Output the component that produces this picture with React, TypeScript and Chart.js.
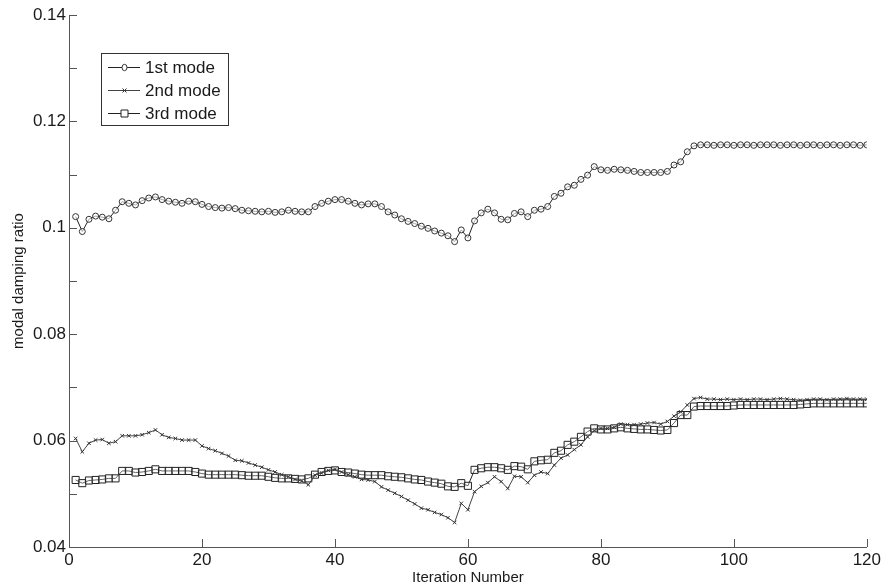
import React, { useEffect, useRef } from "react";
import { Chart, registerables } from "chart.js";

Chart.register(...registerables);

const iterations: number[] = Array.from({ length: 120 }, (_, i) => i + 1);

const mode1: number[] = [
  0.1021, 0.0993, 0.1016, 0.1022, 0.1020, 0.1017, 0.1033, 0.1049, 0.1046, 0.1043,
  0.1051, 0.1056, 0.1058, 0.1053, 0.1050, 0.1048, 0.1046, 0.1050, 0.1049, 0.1044,
  0.1040, 0.1038, 0.1037, 0.1038, 0.1036, 0.1033, 0.1032, 0.1031, 0.1030, 0.1031,
  0.1029, 0.1030, 0.1033, 0.1031, 0.1030, 0.1030, 0.1040, 0.1046, 0.1050, 0.1053,
  0.1053, 0.1050, 0.1046, 0.1043, 0.1045, 0.1045, 0.1040, 0.1030, 0.1024, 0.1017,
  0.1012, 0.1008, 0.1003, 0.0999, 0.0994, 0.0990, 0.0985, 0.0974, 0.0996, 0.0981,
  0.1013, 0.1028, 0.1035, 0.1028, 0.1016, 0.1015, 0.1027, 0.1030, 0.1021, 0.1033,
  0.1035, 0.1040, 0.1059, 0.1065, 0.1077, 0.1080, 0.1091, 0.1099, 0.1115, 0.1109,
  0.1108, 0.1110, 0.1109, 0.1108, 0.1106, 0.1104, 0.1104, 0.1104, 0.1104, 0.1106,
  0.1118, 0.1124, 0.1143, 0.1154, 0.1156, 0.1156, 0.1155, 0.1156, 0.1156, 0.1155,
  0.1156, 0.1156, 0.1155, 0.1156, 0.1156, 0.1156, 0.1155, 0.1156, 0.1156, 0.1155,
  0.1156, 0.1156, 0.1155, 0.1156, 0.1156, 0.1155, 0.1156, 0.1156, 0.1155, 0.1156,
];

const mode2: number[] = [
  0.0604, 0.0579, 0.0595, 0.0601, 0.0602, 0.0595, 0.0598, 0.0609, 0.0609, 0.0609,
  0.0611, 0.0615, 0.0620, 0.0611, 0.0606, 0.0604, 0.0601, 0.0601, 0.0601, 0.0590,
  0.0585, 0.0581, 0.0576, 0.0571, 0.0563, 0.0562, 0.0558, 0.0554, 0.0550, 0.0545,
  0.0541, 0.0536, 0.0532, 0.0527, 0.0524, 0.0517, 0.0535, 0.0539, 0.0544, 0.0546,
  0.0541, 0.0536, 0.0532, 0.0527, 0.0526, 0.0523, 0.0513, 0.0507, 0.0501, 0.0495,
  0.0488, 0.0481, 0.0473, 0.0470, 0.0465, 0.0461, 0.0455, 0.0446, 0.0482, 0.0470,
  0.0504, 0.0514, 0.0521, 0.0532, 0.0523, 0.0510, 0.0533, 0.0532, 0.0521, 0.0535,
  0.0541, 0.0538, 0.0554, 0.0567, 0.0573, 0.0583, 0.0592, 0.0607, 0.0619, 0.0623,
  0.0623, 0.0625, 0.0631, 0.0630, 0.0630, 0.0631, 0.0633, 0.0634, 0.0631, 0.0636,
  0.0646, 0.0654, 0.0667, 0.0679, 0.0681, 0.0678, 0.0678, 0.0677, 0.0678, 0.0677,
  0.0678, 0.0677, 0.0678, 0.0678, 0.0677, 0.0678, 0.0679, 0.0678, 0.0677, 0.0676,
  0.0677, 0.0678, 0.0678, 0.0677, 0.0678, 0.0678, 0.0679, 0.0678, 0.0678, 0.0678,
];

const mode3: number[] = [
  0.0526, 0.0520, 0.0525, 0.0526, 0.0527, 0.0529, 0.0529, 0.0543, 0.0543, 0.0540,
  0.0541, 0.0543, 0.0546, 0.0543, 0.0543, 0.0543, 0.0543, 0.0543, 0.0541, 0.0538,
  0.0536, 0.0536, 0.0536, 0.0536, 0.0536, 0.0535, 0.0534, 0.0534, 0.0534, 0.0532,
  0.0530, 0.0529, 0.0529, 0.0528, 0.0527, 0.0529, 0.0536, 0.0541, 0.0543, 0.0544,
  0.0541, 0.0540, 0.0538, 0.0536, 0.0535, 0.0535, 0.0535, 0.0533, 0.0532, 0.0531,
  0.0529, 0.0527, 0.0526, 0.0523, 0.0521, 0.0519, 0.0514, 0.0513, 0.0520, 0.0515,
  0.0545, 0.0548, 0.0550, 0.0550, 0.0548, 0.0545, 0.0552, 0.0551, 0.0546, 0.0561,
  0.0563, 0.0564, 0.0577, 0.0581, 0.0592, 0.0598, 0.0607, 0.0617, 0.0623, 0.0621,
  0.0621, 0.0623, 0.0625, 0.0623, 0.0622, 0.0621, 0.0621, 0.0620, 0.0619, 0.0620,
  0.0633, 0.0648, 0.0648, 0.0664, 0.0665, 0.0665, 0.0665, 0.0665, 0.0665, 0.0666,
  0.0667, 0.0667, 0.0667, 0.0667, 0.0667, 0.0667, 0.0667, 0.0667, 0.0667, 0.0668,
  0.0669, 0.0670, 0.0670, 0.0670, 0.0670, 0.0670, 0.0670, 0.0670, 0.0670, 0.0670,
];

const seriesNames: string[] = ["1st mode", "2nd mode", "3rd mode"];
const xTitle = "Iteration Number";
const yTitle = "modal damping ratio";

const FONT = 'Arial, "Liberation Sans", Helvetica, sans-serif';
const AXIS_COLOR = "#555";
const TEXT_COLOR = "#1a1a1a";

function drawMarker(ctx: CanvasRenderingContext2D, style: string, x: number, y: number, color: string) {
  ctx.save();
  ctx.strokeStyle = color;
  ctx.fillStyle = "#fff";
  ctx.lineWidth = 1;
  ctx.beginPath();
  if (style === "circle") {
    ctx.ellipse(x, y, 2.5, 3.2, 0, 0, Math.PI * 2);
    ctx.fill();
    ctx.stroke();
  } else if (style === "crossRot") {
    ctx.moveTo(x - 2, y - 2);
    ctx.lineTo(x + 2, y + 2);
    ctx.moveTo(x + 2, y - 2);
    ctx.lineTo(x - 2, y + 2);
    ctx.stroke();
  } else {
    ctx.rect(x - 3.5, y - 3.5, 7, 7);
    ctx.fill();
    ctx.stroke();
  }
  ctx.restore();
}

const matlabPlugin = {
  id: "matlabAxes",
  afterDraw(chart: any) {
    const { ctx, chartArea, scales } = chart;
    const { left, bottom } = chartArea;
    const x = scales.x;
    const y = scales.y;
    ctx.save();
    ctx.strokeStyle = AXIS_COLOR;
    ctx.lineWidth = 1;
    ctx.beginPath();
    y.ticks.forEach((t: any) => {
      const py = Math.round(y.getPixelForValue(t.value)) + 0.5;
      ctx.moveTo(left, py);
      ctx.lineTo(left + 8, py);
    });
    x.ticks.forEach((t: any) => {
      const px = Math.round(x.getPixelForValue(t.value)) + 0.5;
      ctx.moveTo(px, bottom);
      ctx.lineTo(px, bottom - 8);
    });
    ctx.stroke();

    // legend box (MATLAB style: line + marker sample)
    const bx = 101.5, by = 53.5, bw = 127, bh = 72;
    ctx.fillStyle = "#fff";
    ctx.fillRect(bx, by, bw, bh);
    ctx.strokeStyle = "#333";
    ctx.strokeRect(bx, by, bw, bh);
    chart.data.datasets.forEach((ds: any, i: number) => {
      const ry = 67 + i * 23;
      ctx.beginPath();
      ctx.strokeStyle = ds.borderColor;
      ctx.lineWidth = 1;
      ctx.moveTo(108, ry + 0.5);
      ctx.lineTo(140, ry + 0.5);
      ctx.stroke();
      drawMarker(ctx, ds.pointStyle, 124.5, ry + 0.5, ds.pointBorderColor);
      ctx.fillStyle = TEXT_COLOR;
      ctx.font = `17px ${FONT}`;
      ctx.textBaseline = "middle";
      ctx.textAlign = "left";
      ctx.fillText(ds.label, 145, ry + 1);
    });
    ctx.restore();
  },
};

function fmt(v: number): string {
  const r = Math.round(v * 100);
  if (r % 2 !== 0) return "";
  return String(parseFloat(v.toFixed(2)));
}

export default function App() {
  const canvasRef = useRef<HTMLCanvasElement | null>(null);

  useEffect(() => {
    if (!canvasRef.current) return;
    const toPts = (arr: number[]) => arr.map((v, i) => ({ x: iterations[i], y: v }));
    const chart = new Chart(canvasRef.current, {
      type: "line",
      data: {
        datasets: [
          {
            label: seriesNames[0],
            data: toPts(mode1),
            borderColor: "#222",
            borderWidth: 1,
            pointStyle: "circle",
            pointRadius: 3,
            pointBorderWidth: 1,
            pointBorderColor: "#333",
            pointBackgroundColor: "rgba(255,255,255,0.6)",
            tension: 0,
          },
          {
            label: seriesNames[1],
            data: toPts(mode2),
            borderColor: "#444",
            borderWidth: 1,
            pointStyle: "crossRot",
            pointRadius: 2.5,
            pointBorderWidth: 1,
            pointBorderColor: "#333",
            pointBackgroundColor: "#333",
            tension: 0,
          },
          {
            label: seriesNames[2],
            data: toPts(mode3),
            borderColor: "#222",
            borderWidth: 1,
            pointStyle: "rect",
            pointRadius: 5,
            pointBorderWidth: 1,
            pointBorderColor: "#222",
            pointBackgroundColor: "rgba(255,255,255,0.3)",
            tension: 0,
          },
        ],
      },
      options: {
        animation: false,
        responsive: false,
        events: [],
        layout: { padding: { left: 10, top: 15, right: 17, bottom: 0 } },
        plugins: {
          legend: { display: false },
          tooltip: { enabled: false },
        },
        scales: {
          x: {
            type: "linear",
            min: 0,
            max: 120,
            afterFit: (s: any) => {
              s.height = 40;
            },
            ticks: {
              stepSize: 20,
              color: TEXT_COLOR,
              font: { family: FONT, size: 17 },
              padding: 3,
              maxRotation: 0,
            },
            grid: { display: true, drawOnChartArea: false, drawTicks: false },
            border: { display: true, color: AXIS_COLOR, width: 1 },
            title: {
              display: true,
              text: xTitle,
              color: TEXT_COLOR,
              font: { family: FONT, size: 15 },
              padding: 0,
            },
          },
          y: {
            type: "linear",
            min: 0.04,
            max: 0.14,
            afterFit: (s: any) => {
              s.width = 59;
            },
            ticks: {
              stepSize: 0.01,
              color: TEXT_COLOR,
              font: { family: FONT, size: 17 },
              padding: 3,
              autoSkip: false,
              callback: (v: any) => fmt(Number(v)),
            },
            grid: { display: true, drawOnChartArea: false, drawTicks: false },
            border: { display: true, color: AXIS_COLOR, width: 1 },
            title: {
              display: true,
              text: yTitle,
              color: TEXT_COLOR,
              font: { family: FONT, size: 15 },
              padding: 0,
            },
          },
        },
      },
      plugins: [matlabPlugin],
    });
    return () => chart.destroy();
  }, []);

  return (
    <div style={{ position: "absolute", left: 0, top: 0, width: 884, height: 587, background: "#fff" }}>
      <canvas ref={canvasRef} width={884} height={587} style={{ display: "block" }} />
    </div>
  );
}
